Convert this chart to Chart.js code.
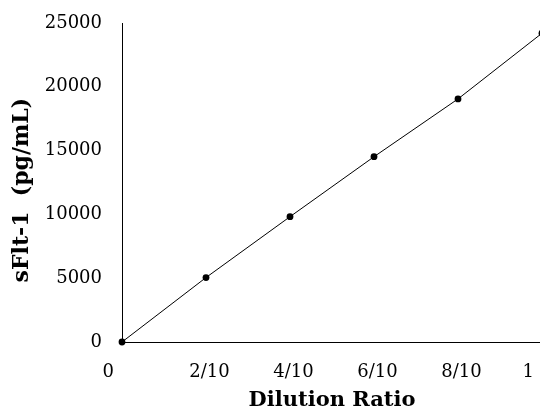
<!DOCTYPE html>
<html>
<head>
<meta charset="utf-8">
<script src="https://cdn.jsdelivr.net/npm/chart.js@4/dist/chart.umd.min.js"></script>
<style>
html, body { margin: 0; padding: 0; background: #fff; overflow: hidden; width: 540px; height: 411px; }
#wrap { width: 550px; height: 411px; }
</style>
</head>
<body>
<div id="wrap"><canvas id="c" width="550" height="411"></canvas></div>
<script>
// Data
const xValues = [0, 0.2, 0.4, 0.6, 0.8, 1];
const yValues = [0, 5050, 9820, 14520, 19050, 24200];
const xTickValues = [0, 0.2, 0.4, 0.6, 0.8, 1];
const xTickLabels = ['0', '2/10', '4/10', '6/10', '8/10', '1'];
const yTickValues = [0, 5000, 10000, 15000, 20000, 25000];
const xTitle = 'Dilution Ratio';
const yTitle = 'sFlt-1  (pg/mL)';

const points = xValues.map((x, i) => ({ x: x, y: yValues[i] }));
const serif = "'DejaVu Serif', 'Noto Sans CJK JP', serif";

new Chart(document.getElementById('c'), {
  type: 'scatter',
  data: {
    datasets: [{
      data: points,
      showLine: true,
      borderColor: '#000',
      borderWidth: 1,
      backgroundColor: '#000',
      pointRadius: 3.4,
      pointBorderWidth: 0,
      pointHoverRadius: 3.4,
      clip: false
    }]
  },
  options: {
    responsive: false,
    animation: false,
    events: [],
    layout: { padding: { top: 23, right: 8, bottom: 0, left: 0 } },
    plugins: { legend: { display: false }, tooltip: { enabled: false } },
    scales: {
      x: {
        type: 'linear',
        min: 0,
        max: 1,
        grid: { display: false, drawTicks: false },
        border: { display: true, color: '#000', width: 1 },
        afterBuildTicks: (s) => { s.ticks = xTickValues.map(v => ({ value: v })); },
        afterFit: (s) => { s.height = 69; s.paddingLeft = 0; s.paddingRight = 0; },
        ticks: {
          autoSkip: false,
          maxRotation: 0,
          minRotation: 0,
          padding: 20,
          labelOffset: 3.5,
          color: '#000',
          font: { family: serif, size: 18, lineHeight: 1.2 },
          callback: (v, i, arr) => {
            const t = xTickLabels[i];
            return (i === 0 || i === arr.length - 1) ? t + '      ' : t;
          }
        },
        title: {
          display: true,
          text: xTitle,
          color: '#000',
          font: { family: serif, size: 21, weight: 'bold', lineHeight: 1.2 },
          padding: { top: 0, bottom: -2 }
        }
      },
      y: {
        type: 'linear',
        min: 0,
        max: 25000,
        grid: { display: false, drawTicks: false },
        border: { display: true, color: '#000', width: 1 },
        afterBuildTicks: (s) => { s.ticks = yTickValues.map(v => ({ value: v })); },
        afterFit: (s) => { s.width = 122; s.paddingTop = 0; s.paddingBottom = 0; },
        ticks: {
          padding: 20,
          color: '#000',
          font: { family: serif, size: 18, lineHeight: 1.2 },
          callback: (v) => String(v)
        },
        title: {
          display: true,
          text: yTitle + '  ',
          color: '#000',
          font: { family: serif, size: 22, weight: 'bold', lineHeight: 1.2 },
          padding: { top: 9, bottom: 0 }
        }
      }
    }
  }
});
</script>
</body>
</html>
